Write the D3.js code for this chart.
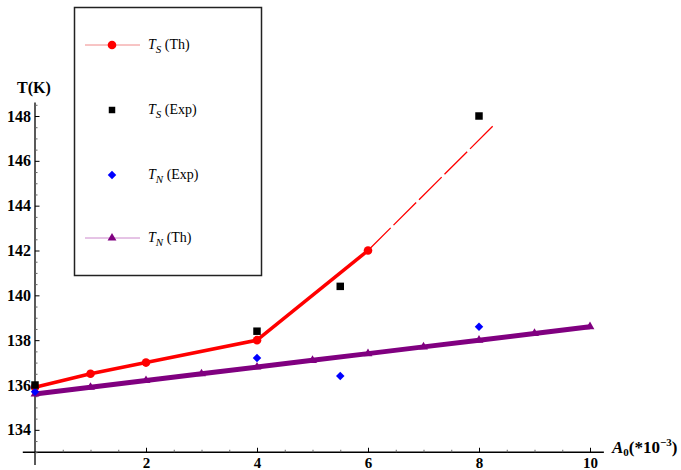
<!DOCTYPE html>
<html><head><meta charset="utf-8">
<script src="https://cdn.jsdelivr.net/npm/d3@7"></script>
<style>body{margin:0;background:#fff}svg{display:block}</style>
</head><body>
<svg id="c" width="681" height="470"></svg>
<script>
const xTicks = [2, 4, 6, 8, 10];
const yTicks = [134, 136, 138, 140, 142, 144, 146, 148];
const tsThX = [0, 1, 2, 4, 6];
const tsThY = [135.9, 136.5, 137.0, 138.0, 142.0];
const tsThExtX = [6, 8.27];
const tsThExtY = [142.0, 147.6];
const tsExpX = [0, 4, 5.5, 8];
const tsExpY = [136.0, 138.4, 140.4, 148.0];
const tnExpX = [0, 4, 5.5, 8];
const tnExpY = [135.7, 137.2, 136.4, 138.6];
const tnThX = [0, 1, 2, 3, 4, 5, 6, 7, 8, 9, 10];
const tnThY = [135.6, 135.9, 136.2, 136.5, 136.8, 137.1, 137.4, 137.7, 138.0, 138.3, 138.6];
const legendLabels = [["S","(Th)"],["S","(Exp)"],["N","(Exp)"],["N","(Th)"]];

const svg = d3.select("#c");
const x = d3.scaleLinear().domain([0, 10]).range([35, 590]);
const y = d3.scaleLinear().domain([136, 148]).range([385, 116]);
const xMin = -0.22, xMax = 10.25, yMax = 148.6, yCross = 133.0;
const serif = "'Liberation Serif','Times New Roman',serif";

// axes
const gx = svg.append("g").attr("transform", `translate(0,${y(yCross)})`);
gx.append("line").attr("x1", x(xMin)).attr("x2", x(xMax)).attr("stroke", "#000").attr("stroke-width", 1.3);
gx.append("g").call(d3.axisBottom(x).tickValues(d3.range(0.5, 10.01, 0.5).filter(v => v % 2 !== 0)).tickSize(-2.5).tickFormat(""))
  .call(g => g.select(".domain").remove()).call(g => g.selectAll("line").attr("stroke", "#666"));
gx.append("g").call(d3.axisBottom(x).tickValues(xTicks).tickSize(-4.5).tickPadding(5))
  .call(g => g.select(".domain").remove())
  .call(g => g.selectAll("text").style("font-family", serif).style("font-weight", "bold").style("font-size", "15px").attr("fill", "#000"));

const gy = svg.append("g").attr("transform", `translate(${x(0)},0)`);
gy.append("line").attr("y1", 465).attr("y2", y(yMax)).attr("stroke", "#000").attr("stroke-width", 1.3);
gy.append("g").call(d3.axisLeft(y).tickValues(d3.range(133, 148.6, 0.5).filter(v => v % 2 !== 0)).tickSize(-2.5).tickFormat(""))
  .call(g => g.select(".domain").remove()).call(g => g.selectAll("line").attr("stroke", "#666"));
gy.append("g").call(d3.axisLeft(y).tickValues(yTicks).tickSize(-4.5).tickPadding(4))
  .call(g => g.select(".domain").remove())
  .call(g => g.selectAll("text").style("font-family", serif).style("font-weight", "bold").style("font-size", "16px").attr("fill", "#000"));

// axis titles
svg.append("text").attr("x", 17).attr("y", 93).style("font-family", serif).style("font-weight", "bold")
  .style("font-size", "16px").text("T(K)");
const xt = svg.append("text").attr("x", 612).attr("y", 453).style("font-family", serif).style("font-weight", "bold").style("font-size", "17px");
xt.append("tspan").style("font-style", "italic").text("A");
xt.append("tspan").style("font-size", "11px").attr("dy", 3).text("0");
xt.append("tspan").attr("dy", -3).text("(*10");
xt.append("tspan").style("font-size", "11px").attr("dy", -7).text("−3");
xt.append("tspan").attr("dy", 7).text(")");

// lines
const line = d3.line().x(d => x(d[0])).y(d => y(d[1]));
svg.append("path").datum(tnThX.map((v, i) => [v, tnThY[i]])).attr("d", line)
  .attr("fill", "none").attr("stroke", "#800080").attr("stroke-width", 5);
svg.append("path").datum(tsThExtX.map((v, i) => [v, tsThExtY[i]])).attr("d", line)
  .attr("fill", "none").attr("stroke", "#ff0000").attr("stroke-width", 1.3).attr("stroke-dasharray", "32,4");
svg.append("path").datum(tsThX.map((v, i) => [v, tsThY[i]])).attr("d", line)
  .attr("fill", "none").attr("stroke", "#ff0000").attr("stroke-width", 3.5);

const tri = d3.symbol().type(d3.symbolTriangle).size(34);
const sq = d3.symbol().type(d3.symbolSquare).size(56);
const dia = d3.symbol().type(d3.symbolSquare).size(36);
svg.append("g").selectAll("path").data(tnThX).join("path")
  .attr("transform", (d, i) => `translate(${x(d)},${y(tnThY[i])})`).attr("d", tri()).attr("fill", "#800080");
svg.append("g").selectAll("circle").data(tsThX).join("circle")
  .attr("cx", d => x(d)).attr("cy", (d, i) => y(tsThY[i])).attr("r", 4.3).attr("fill", "#ff0000");
svg.append("g").selectAll("path").data(tnExpX).join("path")
  .attr("transform", (d, i) => `translate(${x(d)},${y(tnExpY[i])}) rotate(45)`).attr("d", dia()).attr("fill", "#0000ff");
svg.append("g").selectAll("path").data(tsExpX).join("path")
  .attr("transform", (d, i) => `translate(${x(d)},${y(tsExpY[i])})`).attr("d", sq()).attr("fill", "#000");

// legend
const lg = svg.append("g");
lg.append("rect").attr("x", 74.5).attr("y", 7.5).attr("width", 187).attr("height", 268)
  .attr("fill", "#fff").attr("stroke", "#222").attr("stroke-width", 1.5);
const rows = [45, 110, 175, 238];
lg.append("line").attr("x1", 85).attr("x2", 140).attr("y1", rows[0]).attr("y2", rows[0]).attr("stroke", "#f08a8a").attr("stroke-width", 1);
lg.append("circle").attr("cx", 112).attr("cy", rows[0]).attr("r", 4.3).attr("fill", "#ff0000");
lg.append("path").attr("transform", `translate(112,${rows[1]})`).attr("d", d3.symbol().type(d3.symbolSquare).size(42)()).attr("fill", "#000");
lg.append("path").attr("transform", `translate(112,${rows[2]}) rotate(45)`).attr("d", dia()).attr("fill", "#0000ff");
lg.append("line").attr("x1", 85).attr("x2", 140).attr("y1", rows[3]).attr("y2", rows[3]).attr("stroke", "#cc88cc").attr("stroke-width", 1);
lg.append("path").attr("transform", `translate(112,${rows[3]})`).attr("d", tri()).attr("fill", "#800080");
legendLabels.forEach((l, i) => {
  const t = lg.append("text").attr("x", 148).attr("y", rows[i] + 4).style("font-family", serif).style("font-size", "14px");
  t.append("tspan").style("font-style", "italic").text("T");
  t.append("tspan").style("font-style", "italic").style("font-size", "11px").attr("dy", 4).text(l[0]);
  t.append("tspan").attr("dy", -4).text(" " + l[1]);
});
</script>
</body></html>
